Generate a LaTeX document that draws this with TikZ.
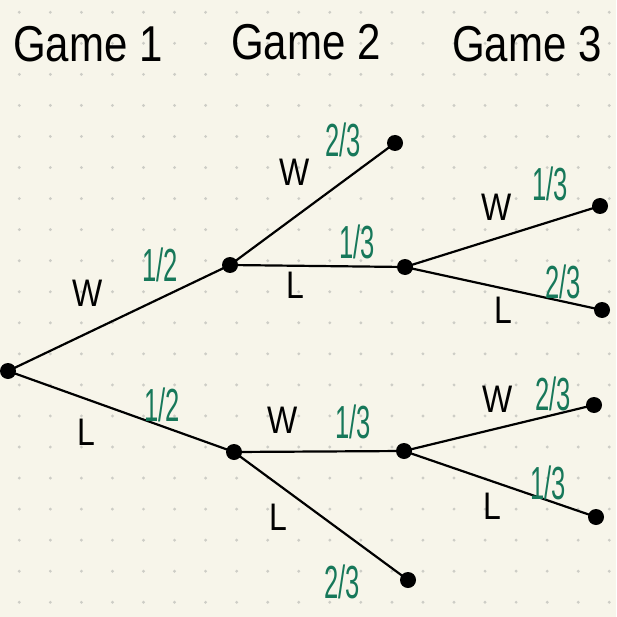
\documentclass[tikz,border=0pt]{standalone}
\usepackage{fontspec}
\setmainfont{Liberation Sans}
\definecolor{paper}{HTML}{F7F5EA}
\definecolor{griddot}{HTML}{CDCDC6}
\definecolor{probgreen}{HTML}{17785A}
\newcommand\tallfrac[1]{\scalebox{0.8}[1.45]{#1}}
\newcommand\tallword[1]{\scalebox{1}[1.2]{#1}}
\begin{document}
\begin{tikzpicture}[x=1pt,y=-1pt,
  vtx/.style={circle,fill=black,inner sep=0pt,minimum size=16pt},
  branch/.style={line width=2.2pt,black},
  title/.style={font=\fontsize{42}{44}\selectfont,inner sep=0pt},
  wl/.style={font=\fontsize{32}{34}\selectfont,inner sep=0pt},
  prob/.style={font=\fontsize{32}{34}\selectfont,inner sep=0pt,text=probgreen}]
\fill[paper] (0,0) rectangle (616,617);
\useasboundingbox (0,0) rectangle (616,617);
\foreach \i in {0,...,19}{
  \foreach \j in {0,...,19}{
    \fill[griddot] ({19.3+31.05*\i},{12.3+31.05*\j}) circle (1.6);
  }
}
% titles
\node[title] (g1) at (88,44) {\tallword{Game 1}};
\node[title] (g2) at (306,42) {\tallword{Game 2}};
\node[title] (g3) at (527,44) {\tallword{Game 3}};
% vertices
\node[vtx] (r) at (8,371) {};
\node[vtx] (a) at (230,265) {};
\node[vtx] (b) at (234,452) {};
\node[vtx] (aw) at (395,143) {};
\node[vtx] (al) at (405,267) {};
\node[vtx] (alw) at (600,206) {};
\node[vtx] (all) at (602,310) {};
\node[vtx] (bw) at (404,451) {};
\node[vtx] (bww) at (594,405) {};
\node[vtx] (bwl) at (596,517) {};
\node[vtx] (bl) at (408,580) {};
% branches
\draw[branch] (r.center) -- (a.center);
\draw[branch] (r.center) -- (b.center);
\draw[branch] (a.center) -- (aw.center);
\draw[branch] (a.center) -- (al.center);
\draw[branch] (al.center) -- (alw.center);
\draw[branch] (al.center) -- (all.center);
\draw[branch] (b.center) -- (bw.center);
\draw[branch] (b.center) -- (bl.center);
\draw[branch] (bw.center) -- (bww.center);
\draw[branch] (bw.center) -- (bwl.center);
% outcome labels
\node[wl] (l1) at (88,293) {\tallword{W}};
\node[wl] (l2) at (86,432) {\tallword{L}};
\node[wl] (l3) at (295,172) {\tallword{W}};
\node[wl] (l4) at (295,285) {\tallword{L}};
\node[wl] (l5) at (497,207) {\tallword{W}};
\node[wl] (l6) at (503,310) {\tallword{L}};
\node[wl] (l7) at (283,420) {\tallword{W}};
\node[wl] (l8) at (278,517) {\tallword{L}};
\node[wl] (l9) at (498,399) {\tallword{W}};
\node[wl] (l10) at (492,506) {\tallword{L}};
% probabilities
\node[prob] (p1) at (160,265) {\tallfrac{1/2}};
\node[prob] (p2) at (162,405) {\tallfrac{1/2}};
\node[prob] (p3) at (343,140) {\tallfrac{2/3}};
\node[prob] (p4) at (357,242) {\tallfrac{1/3}};
\node[prob] (p5) at (550,184) {\tallfrac{1/3}};
\node[prob] (p6) at (563,282) {\tallfrac{2/3}};
\node[prob] (p7) at (353,422) {\tallfrac{1/3}};
\node[prob] (p8) at (342,582) {\tallfrac{2/3}};
\node[prob] (p9) at (553,394) {\tallfrac{2/3}};
\node[prob] (p10) at (548,483) {\tallfrac{1/3}};
\end{tikzpicture}
\end{document}
